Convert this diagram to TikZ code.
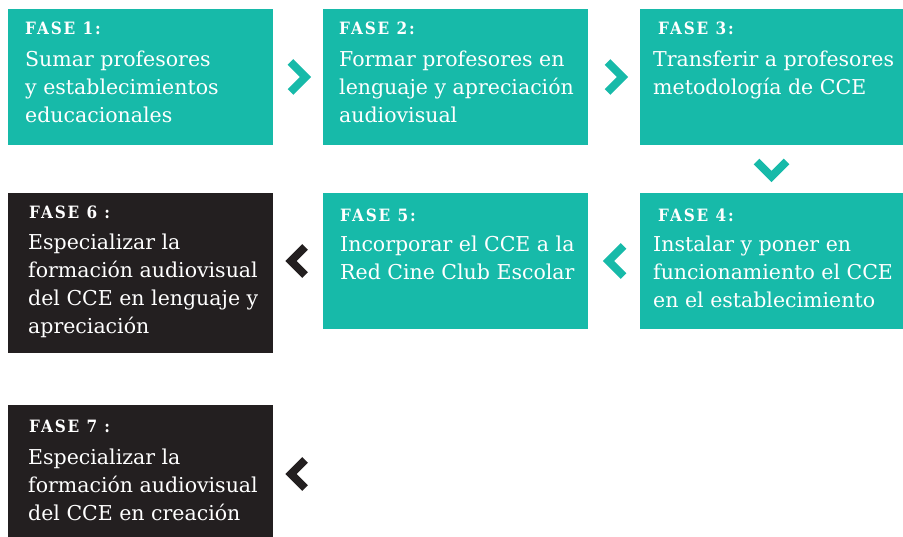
\documentclass[tikz,border=0pt]{standalone}
\usepackage{fontspec}
\usetikzlibrary{calc}
\definecolor{tealA}{HTML}{17BAA9}
\definecolor{darkA}{HTML}{231F20}
\newfontfamily\bodyfam{DejaVu Serif}
\newfontfamily\headfam[FakeStretch=0.9, LetterSpace=11]{DejaVu Serif}
\newcommand\headfnt{\headfam\bfseries\fontsize{17}{20}\selectfont}
\newcommand\bodyfnt{\bodyfam\fontsize{20.5}{28}\selectfont}
\tikzset{
  phase/.style={fill=#1, draw=none, inner sep=0pt, outer sep=0pt, anchor=north west},
  headtxt/.style={anchor=base west, inner sep=0pt, text=white, font=\headfnt},
  bodytxt/.style={anchor=base west, inner sep=0pt, text=white, font=\bodyfnt, align=left},
  chev/.style={draw=#1, line width=8pt, line join=miter, miter limit=10, line cap=butt}
}
\begin{document}
\begin{tikzpicture}[x=1pt,y=-1pt]
\useasboundingbox (0,0) rectangle (903,537);
% boxes
\node[phase=tealA, minimum width=265, minimum height=136] (f1) at (8,9) {};
\node[phase=tealA, minimum width=265, minimum height=136] (f2) at (323,9) {};
\node[phase=tealA, minimum width=263, minimum height=136] (f3) at (640,9) {};
\node[phase=tealA, minimum width=263, minimum height=136] (f4) at (640,193) {};
\node[phase=tealA, minimum width=265, minimum height=136] (f5) at (323,193) {};
\node[phase=darkA, minimum width=265, minimum height=160] (f6) at (8,193) {};
\node[phase=darkA, minimum width=265, minimum height=132] (f7) at (8,405) {};
% texts (body nodes anchored at the baseline of their last line)
\node[headtxt] (h1) at ([shift={(17,26)}]f1.north west) {FASE 1:};
\node[bodytxt] (b1) at ([shift={(17,114)}]f1.north west) {Sumar profesores\\y establecimientos\\educacionales};
\node[headtxt] (h2) at ([shift={(16,26)}]f2.north west) {FASE 2:};
\node[bodytxt] (b2) at ([shift={(16,114)}]f2.north west) {Formar profesores en\\lenguaje y apreciación\\audiovisual};
\node[headtxt] (h3) at ([shift={(18,26)}]f3.north west) {FASE 3:};
\node[bodytxt] (b3) at ([shift={(13,86)}]f3.north west) {Transferir a profesores\\metodología de CCE};
\node[headtxt] (h4) at ([shift={(18,29)}]f4.north west) {FASE 4:};
\node[bodytxt] (b4) at ([shift={(13,115)}]f4.north west) {Instalar y poner en\\funcionamiento el CCE\\en el establecimiento};
\node[headtxt] (h5) at ([shift={(17,29)}]f5.north west) {FASE 5:};
\node[bodytxt] (b5) at ([shift={(17,87)}]f5.north west) {Incorporar el CCE a la\\Red Cine Club Escolar};
\node[headtxt] (h6) at ([shift={(21,26)}]f6.north west) {FASE 6 :};
\node[bodytxt] (b6) at ([shift={(20,141)}]f6.north west) {Especializar la\\formación audiovisual\\del CCE en lenguaje y\\apreciación};
\node[headtxt] (h7) at ([shift={(21,28)}]f7.north west) {FASE 7 :};
\node[bodytxt] (b7) at ([shift={(20,115)}]f7.north west) {Especializar la\\formación audiovisual\\del CCE en creación};
% chevron positions
\coordinate (c12) at ($(f1.east)!0.5!(f2.west)$);
\coordinate (c23) at ($(f2.east)!0.5!(f3.west)+(1,0)$);
\coordinate (c34) at ($(f3.south)!0.5!(f4.north)$);
\coordinate (c45) at ($(f5.east)!0.5!(f4.west)+(2,0)$);
\coordinate (c56) at ($(f6.east|-f5.east)!0.5!(f5.west)$);
\coordinate (c7) at ($(f7.east)+(25,3)$);
% chevrons
\draw[chev=tealA] ([shift={(-7.5,-15)}]c12) -- ([shift={(7.5,0)}]c12) -- ([shift={(-7.5,15)}]c12);
\draw[chev=tealA] ([shift={(-7.5,-15)}]c23) -- ([shift={(7.5,0)}]c23) -- ([shift={(-7.5,15)}]c23);
\draw[chev=tealA] ([shift={(-15,-7.5)}]c34) -- ([shift={(0,7.5)}]c34) -- ([shift={(15,-7.5)}]c34);
\draw[chev=tealA] ([shift={(7.5,-15)}]c45) -- ([shift={(-7.5,0)}]c45) -- ([shift={(7.5,15)}]c45);
\draw[chev=darkA] ([shift={(7,-14)}]c56) -- ([shift={(-7,0)}]c56) -- ([shift={(7,14)}]c56);
\draw[chev=darkA] ([shift={(7,-14)}]c7) -- ([shift={(-7,0)}]c7) -- ([shift={(7,14)}]c7);
\end{tikzpicture}
\end{document}
